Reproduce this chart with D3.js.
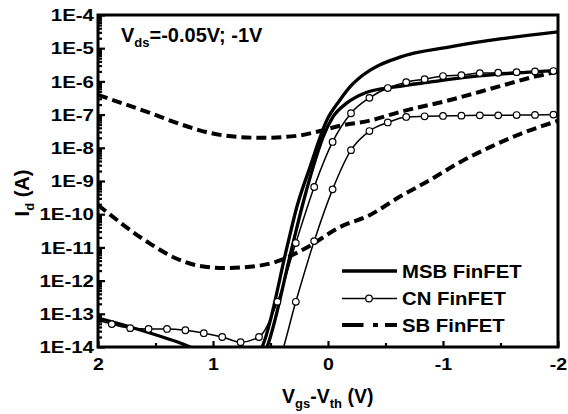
<!DOCTYPE html>
<html>
<head>
<meta charset="utf-8">
<script src="https://cdnjs.cloudflare.com/ajax/libs/d3/7.8.5/d3.min.js"></script>
<style>
  body { margin: 0; background: #fff; }
  text { font-family: "Liberation Sans", Arial, sans-serif; font-weight: bold; fill: #000; }
</style>
</head>
<body>
<div id="chart"></div>
<script>
// values, [Vgs-Vth (V), Id (A)]
var msbHigh = [[2.0, 7.4e-14], [1.72, 4.0e-14], [1.46, 2.1e-14], [1.2, 1.0e-14], [1.0, 4e-15],
  [0.75, 2.5e-15], [0.574, 1e-14], [0.357, 1.0e-11], [0.27, 1.7e-10], [0.157, 2.6e-9],
  [0.009, 6.9e-8], [-0.104, 2.75e-7], [-0.191, 6.8e-7], [-0.304, 1.55e-6], [-0.626, 5.4e-6],
  [-1.061, 1.1e-5], [-1.496, 1.9e-5], [-2.0, 3.1e-5]];

var msbLow = [[2.0, 6e-16], [0.8, 6e-16], [0.53, 1e-14], [0.313, 1.0e-11], [0.226, 1.65e-10],
  [0.13, 2.6e-9], [0.043, 2.1e-8], [-0.043, 8.5e-8], [-0.165, 2.25e-7], [-0.322, 4.5e-7],
  [-0.583, 6.8e-7], [-0.913, 9.8e-7], [-1.209, 1.35e-6], [-1.496, 1.65e-6], [-1.783, 1.95e-6],
  [-2.0, 2.15e-6]];

// CN curves are sampled every 0.16 V
var cnVgs = [2.04, 1.88, 1.72, 1.56, 1.40, 1.24, 1.08, 0.92, 0.76, 0.60, 0.44, 0.28, 0.12,
  -0.04, -0.20, -0.36, -0.52, -0.68, -0.84, -1.00, -1.16, -1.32, -1.48, -1.64, -1.80, -1.96];
var cnHighId = [7e-14, 4.9e-14, 3.7e-14, 3.5e-14, 3.5e-14, 3.2e-14, 2.6e-14, 2.0e-14, 1.4e-14,
  2.0e-14, 2.3e-13, 1.35e-11, 6.6e-10, 1.5e-8, 1.1e-7, 3.2e-7, 6.3e-7, 9.5e-7, 1.17e-6,
  1.45e-6, 1.55e-6, 1.78e-6, 1.82e-6, 1.9e-6, 2.0e-6, 2.05e-6];
var cnLowId = [null, null, null, null, null, null, null, null, null,
  3e-16, 2.5e-15, 2.3e-13, 1.55e-11, 5.6e-10, 8.5e-9, 3.2e-8, 5.8e-8, 8.5e-8, 8.9e-8,
  9.1e-8, 9.3e-8, 9.5e-8, 9.5e-8, 9.7e-8, 9.8e-8, 1e-7];

var sbHigh = [[2.0, 3.9e-7], [1.548, 1.12e-7], [1.287, 5.2e-8], [1.026, 2.8e-8], [0.765, 2.1e-8],
  [0.565, 2.0e-8], [0.27, 2.3e-8], [0.07, 3.2e-8], [-0.104, 4.6e-8], [-0.365, 6.6e-8],
  [-0.626, 1.2e-7], [-1.061, 2.75e-7], [-1.496, 7.2e-7], [-1.783, 1.35e-6], [-2.0, 1.95e-6]];

var sbLow = [[2.0, 1.9e-10], [1.548, 1.3e-11], [1.33, 4.8e-12], [1.113, 2.75e-12], [0.896, 2.4e-12],
  [0.678, 2.6e-12], [0.461, 3.6e-12], [0.183, 1e-11], [-0.104, 4.1e-11], [-0.365, 9.5e-11],
  [-0.626, 3.4e-10], [-0.887, 1.07e-9], [-1.148, 3.7e-9], [-1.409, 1.05e-8], [-1.67, 2.6e-8],
  [-2.0, 6.5e-8]];

var yTickExp = [-4, -5, -6, -7, -8, -9, -10, -11, -12, -13, -14];
var xTicks = [2, 1, 0, -1, -2];
var xMinor = [1.5, 0.5, -0.5, -1.5];
var legendNames = ["MSB FinFET", "CN FinFET", "SB FinFET"];

var cnHigh = cnVgs.map(function(v, i) { return [v, cnHighId[i]]; });
var cnLow = cnVgs.map(function(v, i) { return [v, cnLowId[i]]; }).filter(function(d) { return d[1] != null; });

var width = 568, height = 414;
var margin = {top: 15, right: 10, bottom: 67, left: 98};
var plotW = width - margin.left - margin.right;
var plotH = height - margin.top - margin.bottom;

var svg = d3.select("#chart").append("svg")
  .attr("width", width)
  .attr("height", height);

var x = d3.scaleLinear().domain([2, -2]).range([margin.left, margin.left + plotW]);
var y = d3.scaleLog().domain([1e-14, 1e-4]).range([margin.top + plotH, margin.top]);

svg.append("clipPath").attr("id", "clip")
  .append("rect")
  .attr("x", margin.left).attr("y", margin.top)
  .attr("width", plotW).attr("height", plotH);

// axes
var minorY = [];
yTickExp.forEach(function(e) {
  if (e > -14) return;
});
for (var e = -14; e < -4; e++) {
  for (var m = 2; m <= 9; m++) minorY.push(m * Math.pow(10, e));
}

var yAxis = d3.axisLeft(y)
  .tickValues(yTickExp.map(function(e) { return Math.pow(10, e); }))
  .tickSizeInner(-7).tickSizeOuter(0)
  .tickFormat(function(d) { return "1E" + Math.round(Math.log10(d)); });

var gy = svg.append("g").attr("transform", "translate(" + margin.left + ",0)").call(yAxis);
gy.selectAll("text")
  .attr("x", null).attr("dy", "0.36em")
  .attr("transform", "translate(-4,0) scale(1.28,1)")
  .style("font-size", "16px");

svg.append("g").attr("transform", "translate(" + margin.left + ",0)")
  .call(d3.axisLeft(y).tickValues(minorY).tickSizeInner(-4).tickSizeOuter(0).tickFormat(""));

var xAxis = d3.axisBottom(x)
  .tickValues(xTicks)
  .tickSizeInner(-6).tickSizeOuter(0)
  .tickFormat(function(d) { return String(d); });

var gx = svg.append("g").attr("transform", "translate(0," + (margin.top + plotH) + ")").call(xAxis);
gx.selectAll("text")
  .attr("y", null).attr("dy", null)
  .attr("transform", "translate(0,23) scale(1.15,1)")
  .style("font-size", "17px");

svg.append("g").attr("transform", "translate(0," + (margin.top + plotH) + ")")
  .call(d3.axisBottom(x).tickValues(xMinor).tickSizeInner(-4).tickSizeOuter(0).tickFormat(""));

svg.selectAll(".domain").remove();
svg.selectAll(".tick line").attr("stroke", "#000").attr("stroke-width", 2.2);

svg.append("rect")
  .attr("x", margin.left).attr("y", margin.top)
  .attr("width", plotW).attr("height", plotH)
  .attr("fill", "none").attr("stroke", "#000").attr("stroke-width", 3);

// curves
var line = d3.line()
  .x(function(d) { return x(d[0]); })
  .y(function(d) { return y(d[1]); })
  .curve(d3.curveMonotoneX);

var plot = svg.append("g").attr("clip-path", "url(#clip)");

[sbHigh, sbLow].forEach(function(s) {
  plot.append("path").datum(s)
    .attr("d", line).attr("fill", "none")
    .attr("stroke", "#000").attr("stroke-width", 4)
    .attr("stroke-dasharray", "10,5");
});

[msbHigh, msbLow].forEach(function(s) {
  plot.append("path").datum(s)
    .attr("d", line).attr("fill", "none")
    .attr("stroke", "#000").attr("stroke-width", 3.3);
});

[cnHigh, cnLow].forEach(function(s) {
  plot.append("path").datum(s)
    .attr("d", line).attr("fill", "none")
    .attr("stroke", "#000").attr("stroke-width", 1.5);
  plot.selectAll(null).data(s).enter().append("circle")
    .attr("cx", function(d) { return x(d[0]); })
    .attr("cy", function(d) { return y(d[1]); })
    .attr("r", 3.3)
    .attr("fill", "#fff").attr("stroke", "#000").attr("stroke-width", 1.2);
});

// legend
var leg = svg.append("g");
var legY = [271, 298.5, 325];
leg.append("line").attr("x1", 342).attr("x2", 397).attr("y1", legY[0]).attr("y2", legY[0])
  .attr("stroke", "#000").attr("stroke-width", 3.3);
leg.append("line").attr("x1", 342).attr("x2", 397).attr("y1", legY[1]).attr("y2", legY[1])
  .attr("stroke", "#000").attr("stroke-width", 1.5);
leg.append("circle").attr("cx", 369).attr("cy", legY[1]).attr("r", 3.3)
  .attr("fill", "#fff").attr("stroke", "#000").attr("stroke-width", 1.2);
leg.append("line").attr("x1", 342).attr("x2", 397).attr("y1", legY[2]).attr("y2", legY[2])
  .attr("stroke", "#000").attr("stroke-width", 4)
  .attr("stroke-dasharray", "21.5,9.5,5,7,12");

legendNames.forEach(function(name, i) {
  leg.append("text")
    .attr("transform", "translate(402," + (legY[i] + 6.5) + ") scale(1.13,1)")
    .style("font-size", "18px")
    .text(name);
});

// annotation and axis titles
var note = svg.append("text")
  .attr("transform", "translate(121,41.5)")
  .style("font-size", "20px");
note.append("tspan").text("V");
note.append("tspan").attr("dy", 5).style("font-size", "13px").text("ds");
note.append("tspan").attr("dy", -5).text("=-0.05V; -1V");

var xt = svg.append("text")
  .attr("transform", "translate(282,403)")
  .style("font-size", "19.5px");
xt.append("tspan").text("V");
xt.append("tspan").attr("dy", 5).style("font-size", "13px").text("gs");
xt.append("tspan").attr("dy", -5).text("-V");
xt.append("tspan").attr("dy", 5).style("font-size", "13px").text("th");
xt.append("tspan").attr("dy", -5).text(" (V)");

var yt = svg.append("text")
  .attr("transform", "translate(29,193) rotate(-90)")
  .attr("text-anchor", "middle")
  .style("font-size", "20px");
yt.append("tspan").text("I");
yt.append("tspan").attr("dy", 5).style("font-size", "13px").text("d");
yt.append("tspan").attr("dy", -5).text(" (A)");
</script>
</body>
</html>
